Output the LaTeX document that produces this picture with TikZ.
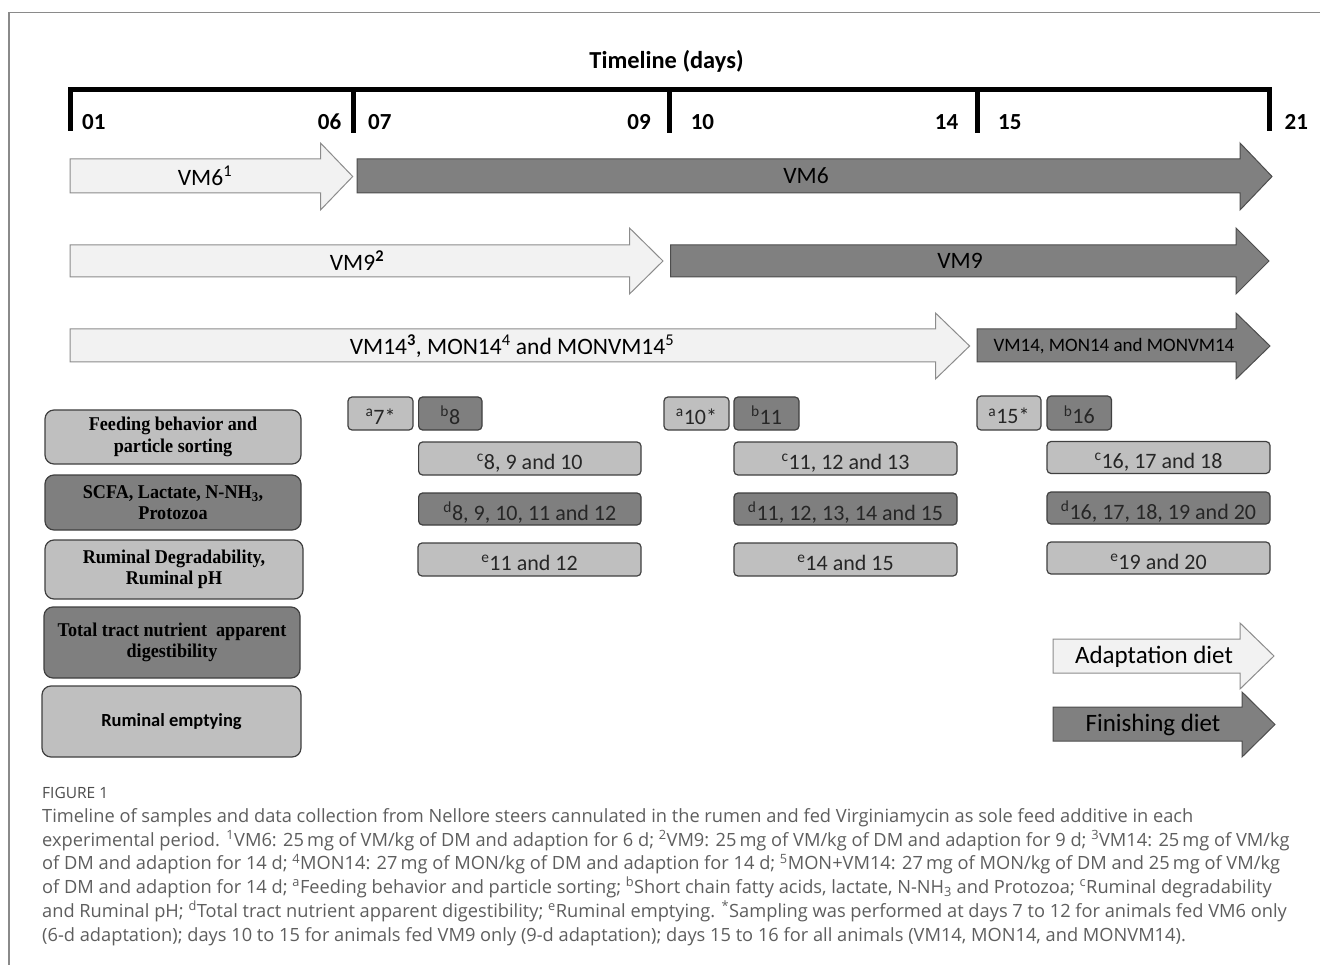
\documentclass[tikz,border=0pt]{standalone}
\usepackage{fontspec}
\setmainfont{Carlito}
\newfontfamily\tnr{Liberation Serif}[FakeStretch=0.93]
\newfontfamily\osans{Open Sans}
\definecolor{arrlight}{HTML}{F2F2F2}
\definecolor{arrlightline}{HTML}{8C8C8C}
\definecolor{arrdark}{HTML}{808080}
\definecolor{arrdarkline}{HTML}{4D4D4D}
\definecolor{boxlight}{HTML}{BFBFBF}
\definecolor{boxdark}{HTML}{7F7F7F}
\definecolor{boxline}{HTML}{404040}
\definecolor{framecol}{HTML}{8A8A8A}
\definecolor{captxt}{HTML}{5E5E5E}
\newcommand{\drawdietarrow}[8]{%
  \draw[#1] (#2,#5) -- (#3,#5) -- (#3,#7) -- (#4,{(#7+#8)/2}) -- (#3,#8) -- (#3,#6) -- (#2,#6) -- cycle;}
\tikzset{
  lightarr/.style={fill=arrlight, draw=arrlightline, line width=1pt, line join=miter},
  darkarr/.style={fill=arrdark, draw=arrdarkline, line width=1pt, line join=miter},
  arrtext/.style={font=\fontsize{23.5}{28}\selectfont, text=black, inner sep=0pt},
  ticklab/.style={font=\bfseries\fontsize{23}{28}\selectfont, text=black, inner sep=0pt},
  tickline/.style={line width=5pt, black},
  sbox/.style={rounded corners=4pt, draw=boxline, line width=1.2pt, inner sep=0pt,
    text height=22pt, text depth=0pt,
    font=\fontsize{22}{26}\selectfont, text=black!85},
  sl/.style={sbox, fill=boxlight},
  sd/.style={sbox, fill=boxdark},
  lbox/.style={rounded corners=9pt, draw=boxline, line width=1.2pt, inner sep=0pt, align=center,
    font=\tnr\bfseries\fontsize{19.5}{21.5}\selectfont, text=black},
  capline/.style={anchor=base west, inner sep=0pt, font=\osans\fontsize{18.25}{24}\selectfont, text=captxt}
}
\begin{document}
\begin{tikzpicture}[x=1pt,y=-1pt]
\useasboundingbox (0,0) rectangle (1320,965);
\fill[white] (0,0) rectangle (1320,965);
% frame
\draw[framecol, line width=1.5pt] (9,965) -- (9,12.7) -- (1320,12.7);

% title
\node[font=\bfseries\fontsize{24.4}{28}\selectfont, inner sep=0pt, anchor=base] (title) at (666.5,68.5) {Timeline (days)};

% timeline bracket
\draw[tickline, line join=miter] (70,131) -- (70,90) -- (1269,90) -- (1269,131);
\draw[tickline] (353.6,90) -- (353.6,133);
\draw[tickline] (669.6,90) -- (669.6,133);
\draw[tickline] (977,90) -- (977,133);
\node[ticklab, anchor=base west] (d01) at (82,129.5) {01};
\node[ticklab, anchor=base east] (d06) at (341.5,129.5) {06};
\node[ticklab, anchor=base west] (d07) at (368,129.5) {07};
\node[ticklab, anchor=base east] (d09) at (651,129.5) {09};
\node[ticklab, anchor=base west] (d10) at (690.6,130) {10};
\node[ticklab, anchor=base east] (d14) at (958.5,130) {14};
\node[ticklab, anchor=base west] (d15) at (998,130) {15};
\node[ticklab, anchor=base west] (d21) at (1284.5,130) {21};

% diet arrows
\drawdietarrow{lightarr}{70}{320.5}{352.7}{159}{193}{143}{210}
\drawdietarrow{darkarr}{357}{1240}{1272}{159}{193}{143}{210}
\drawdietarrow{lightarr}{70}{629.5}{663}{245}{277}{228}{294}
\drawdietarrow{darkarr}{670.5}{1236}{1269}{245}{277}{228}{294}
\drawdietarrow{lightarr}{70}{935.5}{969.6}{329}{362}{313}{379}
\drawdietarrow{darkarr}{977}{1236}{1270}{329}{362}{313}{379}
\node[arrtext] (vm6a) at (205,176) {VM6\textsuperscript{1}};
\node[arrtext] (vm6f) at (806,176) {VM6};
\node[arrtext] (vm9a) at (357,261) {VM9\textsuperscript{\bfseries 2}};
\node[arrtext] (vm9f) at (960,261) {VM9};
\node[arrtext] (vm14a) at (512,346) {VM14\textsuperscript{\bfseries 3}, MON14\textsuperscript{4} and MONVM14\textsuperscript{5}};
\node[arrtext, font=\fontsize{19}{22}\selectfont] (vm14f) at (1114,346) {VM14, MON14 and MONVM14};

% legend arrows
\drawdietarrow{lightarr}{1053}{1240}{1274}{639}{673}{623}{689}
\drawdietarrow{darkarr}{1053}{1242}{1275}{707}{741}{692}{757}
\node[arrtext, font=\fontsize{25}{30}\selectfont] (adapt) at (1154,657) {Adaptation diet};
\node[arrtext, font=\fontsize{25}{30}\selectfont] (finish) at (1153,725) {Finishing diet};

% left category boxes
\node[lbox, fill=boxlight, minimum width=256pt, minimum height=54pt] (feed) at (173,437) {Feeding behavior and\\particle sorting};
\node[lbox, fill=boxdark, minimum width=256pt, minimum height=55pt] (scfa) at (173,502.5) {SCFA, Lactate, N-NH\textsubscript{3},\\Protozoa};
\node[lbox, fill=boxlight, minimum width=258pt, minimum height=59pt] (rdeg) at (174,569.5) {Ruminal Degradability,\\Ruminal pH};
\node[lbox, fill=boxdark, minimum width=256pt, minimum height=71pt] (ttd) at (172,642.5) {Total tract nutrient\ \ apparent\\digestibility};
\node[lbox, fill=boxlight, minimum width=259pt, minimum height=71pt, font=\bfseries\fontsize{18.5}{21.5}\selectfont] (remp) at (171.5,721.5) {Ruminal emptying};

% sampling boxes, period 1
\node[sl, minimum width=65pt, minimum height=33pt] (a7) at (380.5,413.5) {\textsuperscript{a}7*};
\node[sd, minimum width=63.4pt, minimum height=33pt] (b8) at (450.3,413.5) {\textsuperscript{b}8};
\node[sl, minimum width=222.4pt, minimum height=33pt] (c8) at (529.8,458.5) {\textsuperscript{c}8, 9 and 10};
\node[sd, minimum width=222.4pt, minimum height=32pt] (d8) at (529.8,509) {\textsuperscript{d}8, 9, 10, 11 and 12};
\node[sl, minimum width=223pt, minimum height=33pt] (e11) at (529.5,559.5) {\textsuperscript{e}11 and 12};
% period 2
\node[sl, minimum width=65pt, minimum height=33pt] (a10) at (696.5,413.5) {\textsuperscript{a}10*};
\node[sd, minimum width=65pt, minimum height=33pt] (b11) at (766.5,413.5) {\textsuperscript{b}11};
\node[sl, minimum width=223pt, minimum height=33pt] (c11) at (845.5,458.5) {\textsuperscript{c}11, 12 and 13};
\node[sd, minimum width=223pt, minimum height=32pt] (d11) at (845.5,509) {\textsuperscript{d}11, 12, 13, 14 and 15};
\node[sl, minimum width=223pt, minimum height=33pt] (e14) at (845.5,559.5) {\textsuperscript{e}14 and 15};
% period 3
\node[sl, minimum width=64pt, minimum height=34pt] (a15) at (1009,413) {\textsuperscript{a}15*};
\node[sd, minimum width=64.5pt, minimum height=34pt] (b16) at (1079.3,413) {\textsuperscript{b}16};
\node[sl, minimum width=223pt, minimum height=32pt] (c16) at (1158.5,457.5) {\textsuperscript{c}16, 17 and 18};
\node[sd, minimum width=223pt, minimum height=32pt] (d16) at (1158.5,508) {\textsuperscript{d}16, 17, 18, 19 and 20};
\node[sl, minimum width=223pt, minimum height=32pt] (e19) at (1158.5,558) {\textsuperscript{e}19 and 20};

% caption
\node[anchor=base west, inner sep=0pt, font=\osans\fontsize{15.5}{18}\selectfont, text=captxt!80!black] (fig) at (42,798.5) {FIGURE 1};
\node[capline] (cap1) at (42,822) {Timeline of samples and data collection from Nellore steers cannulated in the rumen and fed Virginiamycin as sole feed additive in each};
\node[capline] (cap2) at (42,846) {experimental period. \textsuperscript{1}VM6: 25\,mg of VM/kg of DM and adaption for 6 d; \textsuperscript{2}VM9: 25\,mg of VM/kg of DM and adaption for 9 d; \textsuperscript{3}VM14: 25\,mg of VM/kg};
\node[capline] (cap3) at (42,869.5) {of DM and adaption for 14 d; \textsuperscript{4}MON14: 27\,mg of MON/kg of DM and adaption for 14 d; \textsuperscript{5}MON+VM14: 27\,mg of MON/kg of DM and 25\,mg of VM/kg};
\node[capline] (cap4) at (42,893) {of DM and adaption for 14 d; \textsuperscript{a}Feeding behavior and particle sorting; \textsuperscript{b}Short chain fatty acids, lactate, N-NH\textsubscript{3} and Protozoa; \textsuperscript{c}Ruminal degradability};
\node[capline] (cap5) at (42,917) {and Ruminal pH; \textsuperscript{d}Total tract nutrient apparent digestibility; \textsuperscript{e}Ruminal emptying. \textsuperscript{*}Sampling was performed at days 7 to 12 for animals fed VM6 only};
\node[capline] (cap6) at (42,941) {(6-d adaptation); days 10 to 15 for animals fed VM9 only (9-d adaptation); days 15 to 16 for all animals (VM14, MON14, and MONVM14).};
\end{tikzpicture}
\end{document}
